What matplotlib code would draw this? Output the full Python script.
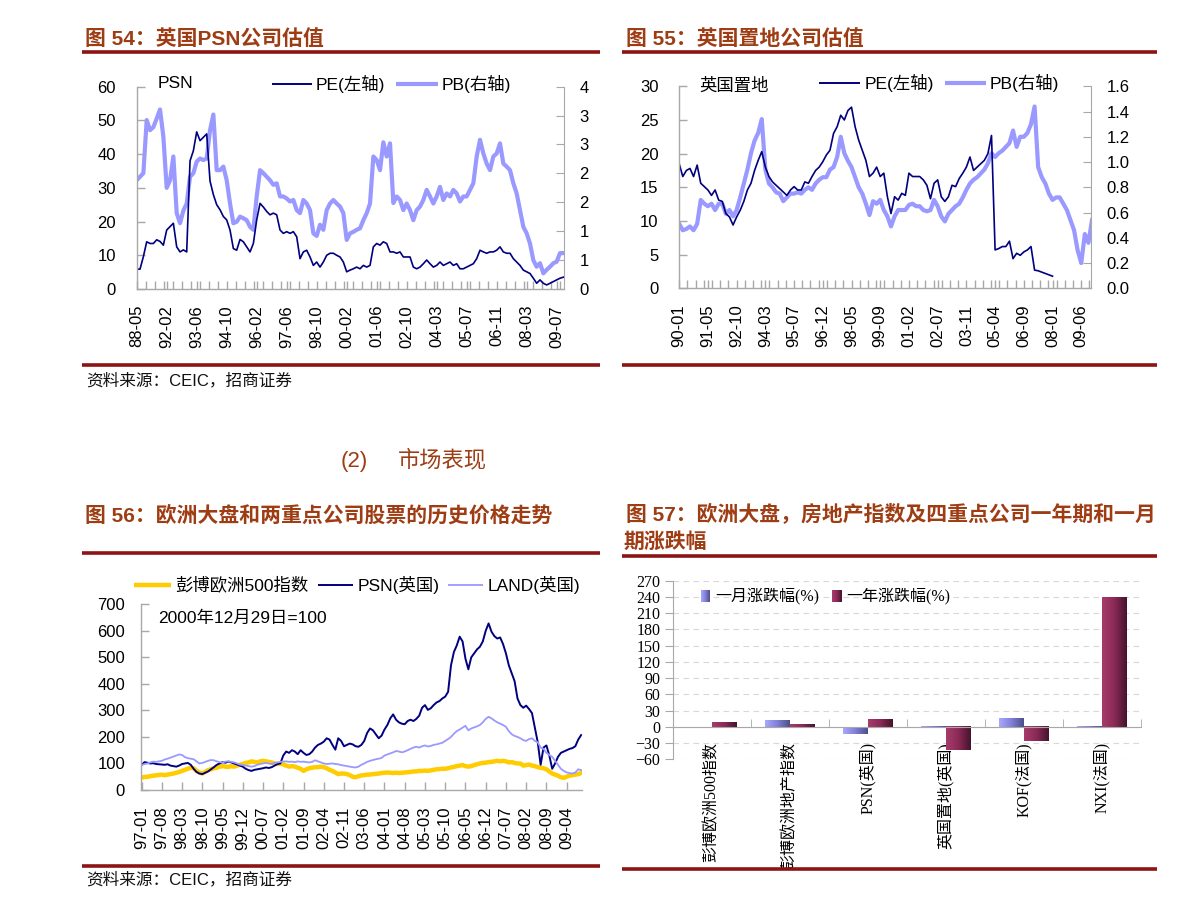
import numpy as np
import matplotlib
matplotlib.use('Agg')
import matplotlib.pyplot as plt
from matplotlib.lines import Line2D
from matplotlib.colors import LinearSegmentedColormap
from matplotlib.ticker import FuncFormatter

# ---------------- data ----------------
# Fig 54: PSN valuation (category axis)
psn_xlabels = ['88-05', '92-02', '93-06', '94-10', '96-02', '97-06', '98-10', '00-02',
               '01-06', '02-10', '04-03', '05-07', '06-11', '08-03', '09-07']
psn_pe = [5.9, 5.9, 9.6, 14.0, 13.5, 13.5, 14.6, 14.1, 13.0, 17.5,
          18.5, 19.5, 12.5, 11.0, 11.6, 11.0, 38.0, 41.0, 46.6, 44.0,
          45.0, 46.0, 32.0, 28.0, 25.0, 23.5, 21.5, 20.5, 17.5, 12.0,
          11.5, 14.7, 14.0, 12.5, 11.0, 13.5, 20.5, 25.4, 24.3, 23.0,
          22.0, 22.5, 22.0, 17.5, 16.5, 17.0, 16.5, 17.0, 15.5, 9.0,
          11.0, 11.5, 9.5, 7.0, 8.0, 6.5, 8.0, 10.0, 10.6, 10.6,
          10.0, 9.5, 8.0, 5.1, 5.6, 6.0, 6.5, 6.0, 7.0, 6.5,
          7.0, 12.5, 13.5, 13.0, 14.0, 13.5, 11.0, 11.0, 10.6, 11.0,
          9.5, 9.5, 9.5, 6.5, 6.0, 6.5, 7.5, 8.6, 7.5, 6.5,
          7.0, 8.0, 7.0, 7.5, 8.0, 7.0, 7.5, 6.0, 6.0, 6.5,
          7.0, 7.5, 9.0, 11.5, 11.0, 10.6, 11.0, 11.0, 11.5, 12.5,
          11.0, 10.6, 10.6, 9.0, 8.0, 7.0, 5.6, 5.1, 4.6, 3.2,
          1.7, 2.7, 1.7, 1.2, 1.7, 2.2, 2.7, 3.2, 3.5]
psn_pb = [2.15, 2.22, 2.29, 3.34, 3.14, 3.20, 3.37, 3.55, 3.01, 2.00,
          2.15, 2.62, 1.50, 1.30, 1.55, 1.69, 2.22, 2.29, 2.52, 2.58,
          2.55, 2.58, 3.14, 3.45, 2.35, 2.35, 2.42, 2.15, 1.69, 1.30,
          1.33, 1.43, 1.40, 1.36, 1.23, 1.17, 1.83, 2.35, 2.29, 2.22,
          2.15, 2.06, 2.09, 1.83, 1.83, 1.79, 1.73, 1.76, 1.56, 1.50,
          1.76, 1.69, 1.56, 1.10, 1.05, 1.27, 1.17, 1.56, 1.69, 1.76,
          1.69, 1.63, 1.50, 0.97, 1.10, 1.13, 1.17, 1.20, 1.36, 1.50,
          1.69, 2.62, 2.55, 2.35, 2.90, 2.62, 2.88, 1.70, 1.83, 1.76,
          1.56, 1.69, 1.56, 1.36, 1.56, 1.63, 1.76, 1.96, 1.83, 1.69,
          1.83, 2.02, 1.76, 1.89, 1.83, 1.96, 1.89, 1.73, 1.83, 1.83,
          1.96, 2.09, 2.62, 2.95, 2.68, 2.48, 2.35, 2.62, 2.68, 2.88,
          2.48, 2.42, 2.35, 2.09, 1.89, 1.56, 1.23, 1.10, 0.90, 0.57,
          0.44, 0.51, 0.31, 0.38, 0.44, 0.51, 0.54, 0.71, 0.71]

# Fig 55: Land Securities valuation (category axis)
land_xlabels = ['90-01', '91-05', '92-10', '94-03', '95-07', '96-12', '98-05', '99-09',
                '01-02', '02-07', '03-11', '05-04', '06-09', '08-01', '09-06']
land_pe = [18.5, 16.6, 17.5, 17.8, 16.6, 18.3, 15.6, 15.1, 14.6, 13.8,
           14.6, 13.1, 12.9, 11.1, 10.6, 9.4, 10.6, 11.6, 12.9, 14.6,
           15.6, 17.5, 19.0, 20.3, 18.0, 16.6, 15.8, 15.3, 14.8, 14.3,
           13.8, 14.6, 15.1, 14.6, 14.6, 15.8, 15.6, 16.6, 17.5, 18.0,
           18.8, 19.8, 20.5, 23.0, 24.0, 25.7, 25.0, 26.4, 26.9, 24.0,
           22.0, 20.5, 19.0, 16.6, 17.1, 18.0, 16.6, 17.1, 13.6, 11.1,
           13.6, 13.1, 14.1, 13.8, 17.1, 16.6, 16.6, 16.6, 16.1, 15.3,
           13.3, 15.6, 16.1, 13.6, 12.9, 13.6, 15.3, 15.1, 16.3, 17.1,
           18.0, 19.5, 17.5, 18.0, 18.5, 19.0, 20.0, 22.7, 5.7, 5.9,
           6.2, 6.2, 7.0, 4.4, 5.2, 4.9, 5.4, 5.7, 6.2, 2.7,
           2.6, 2.4, 2.2, 2.0, 1.8]
land_pb = [0.51, 0.46, 0.47, 0.49, 0.46, 0.51, 0.70, 0.67, 0.65, 0.67,
           0.62, 0.67, 0.67, 0.59, 0.62, 0.57, 0.62, 0.72, 0.83, 0.94,
           1.07, 1.17, 1.23, 1.34, 0.94, 0.83, 0.80, 0.76, 0.75, 0.69,
           0.72, 0.75, 0.75, 0.76, 0.75, 0.78, 0.80, 0.78, 0.83, 0.86,
           0.88, 0.88, 0.94, 0.96, 1.04, 1.20, 1.07, 1.01, 0.96, 0.88,
           0.80, 0.75, 0.67, 0.58, 0.69, 0.67, 0.70, 0.62, 0.57, 0.49,
           0.57, 0.62, 0.62, 0.62, 0.66, 0.67, 0.65, 0.65, 0.62, 0.61,
           0.62, 0.70, 0.65, 0.57, 0.53, 0.59, 0.62, 0.65, 0.67, 0.72,
           0.78, 0.83, 0.86, 0.88, 0.91, 0.94, 0.99, 1.07, 1.04, 1.07,
           1.09, 1.12, 1.15, 1.25, 1.12, 1.20, 1.20, 1.23, 1.30, 1.44,
           0.96, 0.88, 0.83, 0.75, 0.70, 0.72, 0.72, 0.67, 0.62, 0.54,
           0.46, 0.30, 0.20, 0.43, 0.36, 0.54]

# Fig 56: monthly price index, 97-01 .. 09-09 (2000-12-29 = 100)
stock_xlabels = ['97-01', '97-08', '98-03', '98-10', '99-05', '99-12', '00-07', '01-02',
                 '01-09', '02-04', '02-11', '03-06', '04-01', '04-08', '05-03', '05-10',
                 '06-05', '06-12', '07-07', '08-02', '08-09', '09-04']
euro500 = [47, 49, 50, 52, 54, 55, 57, 58, 56, 58, 60, 62, 65, 68,
           72, 76, 80, 84, 82, 72, 66, 62, 68, 75, 78, 82, 84, 88,
           90, 88, 87, 90, 88, 92, 95, 98, 102, 104, 108, 106, 104, 108,
           110, 108, 106, 104, 100, 98, 100, 96, 92, 88, 90, 88, 84, 80,
           72, 78, 82, 84, 86, 86, 88, 86, 82, 76, 72, 66, 60, 62,
           62, 60, 56, 50, 48, 52, 55, 56, 58, 58, 60, 61, 62, 64,
           65, 66, 65, 64, 65, 64, 65, 66, 67, 68, 70, 70, 72, 72,
           73, 72, 74, 76, 78, 79, 80, 80, 82, 85, 87, 90, 92, 94,
           90, 88, 90, 94, 97, 100, 102, 103, 105, 106, 108, 110, 108, 110,
           108, 104, 105, 102, 100, 100, 92, 94, 96, 92, 90, 86, 84, 82,
           78, 70, 62, 58, 54, 48, 46, 50, 54, 56, 58, 60, 64]
psn_price = [94, 105, 103, 100, 101, 98, 97, 96, 95, 97,
             92, 90, 88, 92, 98, 100, 102, 95, 80, 68,
             62, 60, 65, 70, 78, 86, 95, 100, 105, 103,
             107, 104, 100, 96, 92, 88, 80, 75, 72, 76,
             78, 80, 82, 85, 83, 86, 92, 98, 100, 130,
             145, 140, 150, 145, 135, 150, 140, 132, 135, 145,
             160, 170, 175, 182, 195, 190, 170, 152, 195, 185,
             165, 170, 175, 172, 165, 163, 170, 185, 215, 232,
             225, 210, 195, 205, 228, 245, 270, 285, 265, 255,
             250, 248, 260, 265, 260, 268, 280, 310, 320, 302,
             308, 320, 330, 335, 345, 352, 370, 470, 520, 545,
             578, 560, 495, 455, 500, 515, 530, 540, 560, 600,
             628, 597, 580, 571, 575, 550, 515, 470, 440, 410,
             345, 320, 310, 318, 305, 290, 235, 180, 95, 160,
             168, 130, 80, 100, 125, 140, 145, 150, 155, 158,
             165, 190, 207]
land_price = [94, 98, 100, 104, 107, 106, 108, 110, 115, 118,
              122, 126, 130, 134, 132, 124, 120, 118, 116, 108,
              100, 102, 106, 110, 113, 112, 108, 105, 104, 107,
              108, 106, 104, 100, 96, 94, 92, 90, 88, 90,
              95, 98, 100, 102, 100, 98, 102, 104, 106, 107,
              108, 106, 107, 105, 108, 106, 107, 105, 104, 106,
              112, 108, 104, 100, 98, 99, 100, 98, 97, 94,
              92, 90, 88, 86, 85, 88, 95, 100, 106, 110,
              113, 116, 118, 121, 130, 134, 138, 142, 147, 145,
              142, 145, 150, 155, 160, 163, 160, 165, 168, 164,
              166, 170, 172, 175, 178, 185, 192, 200, 212, 222,
              228, 235, 242, 225, 232, 236, 240, 245, 255, 268,
              276, 270, 262, 255, 250, 245, 238, 222, 210, 204,
              200, 195, 188, 185, 192, 195, 185, 180, 160, 155,
              140, 132, 125, 110, 95, 80, 72, 66, 64, 62,
              66, 78, 75]

# Fig 57: one-month / one-year change (%)
cats = ['彭博欧洲500指数', '彭博欧洲地产指数', 'PSN(英国)', '英国置地(英国)', 'KOF(法国)', 'NXI(法国)']
month_chg = [0.0, 12.7, -12.6, -2.0, 16.4, -2.0]
year_chg = [9.0, 5.3, 14.5, -42.7, -26.0, 240.0]
bar_legend = ['一月涨跌幅(%)', '一年涨跌幅(%)']

# ---------------- style ----------------
SANS = ['Liberation Sans', 'Noto Sans CJK SC']
SERIF = ['Liberation Serif', 'Noto Sans CJK SC']
plt.rcParams['font.family'] = SANS
TITLE_C = '#9e3d14'
RULE_C = '#8c1414'
AXC = '#a8a8a8'
NAVY = '#000080'
LAV = '#9999ff'
GOLD = '#ffcc00'

W, H = 1191, 910
fig = plt.figure(figsize=(W / 100, H / 100), dpi=100)
fig.patch.set_facecolor('white')


def fx(x):
    return x / W


def fy(y):
    return 1 - y / H


def hline_px(x1, x2, y, color, lw):
    fig.add_artist(Line2D([fx(x1), fx(x2)], [fy(y), fy(y)], transform=fig.transFigure,
                          color=color, lw=lw, solid_capstyle='butt'))


def text_px(x, y, s, **kw):
    kw.setdefault('va', 'center')
    kw.setdefault('ha', 'left')
    return fig.text(fx(x), fy(y), s, **kw)


def axes_px(x1, y1, x2, y2):
    return fig.add_axes([fx(x1), fy(y2), (x2 - x1) / W, (y2 - y1) / H])


def style_time_axes(ax, ypad, xpad):
    ax.spines['top'].set_visible(False)
    for s in ('left', 'right', 'bottom'):
        ax.spines[s].set_color(AXC)
        ax.spines[s].set_linewidth(1.0)
    ax.tick_params(axis='both', which='both', direction='in', color=AXC, width=1.0,
                   labelsize=12, length=6)
    ax.tick_params(axis='y', pad=ypad)
    ax.tick_params(axis='x', which='major', pad=xpad, labelrotation=90)


# ---------------- headings / rules ----------------
title_kw = dict(fontsize=15, color=TITLE_C, fontweight='bold')
text_px(85, 38.5, '图 54：英国PSN公司估值', **title_kw)
text_px(626, 38.5, '图 55：英国置地公司估值', **title_kw)
hline_px(82, 600, 52, RULE_C, 2.6)
hline_px(622, 1157, 52, RULE_C, 2.6)
hline_px(82, 600, 365, RULE_C, 2.6)
hline_px(622, 1157, 365, RULE_C, 2.6)
text_px(86, 380, '资料来源：CEIC，招商证券', fontsize=12, color='#111111')

text_px(341, 461, '(2)', fontsize=16, color=TITLE_C)
text_px(398, 461, '市场表现', fontsize=16, color=TITLE_C)

text_px(85, 515, '图 56：欧洲大盘和两重点公司股票的历史价格走势', **title_kw)
text_px(626, 514, '图 57：欧洲大盘，房地产指数及四重点公司一年期和一月', **title_kw)
text_px(624, 542, '期涨跌幅', **title_kw)
hline_px(82, 600, 553, RULE_C, 2.6)
hline_px(622, 1157, 556, RULE_C, 2.6)
hline_px(82, 600, 866, RULE_C, 2.6)
hline_px(622, 1157, 869, RULE_C, 2.6)
text_px(86, 879, '资料来源：CEIC，招商证券', fontsize=12, color='#111111')

# ---------------- Fig 54 ----------------
ax1 = axes_px(136.7, 86.7, 564, 289)
ax1r = ax1.twinx()
x1 = np.arange(len(psn_pe))
ax1r.plot(x1, psn_pb, color=LAV, lw=3.0, solid_joinstyle='round')
ax1.plot(x1, psn_pe, color=NAVY, lw=1.2)
ax1.set_zorder(ax1r.get_zorder() + 1)
ax1.patch.set_visible(False)
ax1.set_xlim(0, 128.2)
ax1.set_ylim(0, 60)
ax1.set_yticks(range(0, 61, 10))
ax1r.set_ylim(0, 4)
ax1r.set_yticks([4 * i / 7 for i in range(8)])
ax1r.yaxis.set_major_formatter(FuncFormatter(lambda v, p: f'{v:.0f}'))
ax1.set_xticks(np.arange(len(psn_xlabels)) * 9)
ax1.set_xticklabels(psn_xlabels)
ax1.set_xticks(np.arange(0, 128.3, 2.7), minor=True)
style_time_axes(ax1, 15, 11.5)
ax1.spines['right'].set_visible(False)
for s in ('top', 'left', 'bottom'):
    ax1r.spines[s].set_visible(False)
ax1r.spines['right'].set_color(AXC)
ax1r.tick_params(axis='y', direction='in', color=AXC, length=6, labelsize=12, pad=11)

text_px(158, 84, 'PSN', fontsize=12.5)
hline_px(272, 312, 84, NAVY, 1.4)
text_px(316, 84, 'PE(左轴)', fontsize=12.5)
hline_px(396, 438, 84, LAV, 3.0)
text_px(442, 84, 'PB(右轴)', fontsize=12.5)

# ---------------- Fig 55 ----------------
ax2 = axes_px(679.2, 86.3, 1091.3, 288.3)
ax2r = ax2.twinx()
x2 = np.arange(len(land_pb))
ax2r.plot(x2, land_pb, color=LAV, lw=3.0, solid_joinstyle='round')
ax2.plot(x2[:len(land_pe)], land_pe, color=NAVY, lw=1.2)
ax2.set_zorder(ax2r.get_zorder() + 1)
ax2.patch.set_visible(False)
ax2.set_xlim(0, 114.8)
ax2.set_ylim(0, 30)
ax2.set_yticks(range(0, 31, 5))
ax2r.set_ylim(0, 1.6)
ax2r.set_yticks(np.arange(0, 1.61, 0.2))
ax2r.yaxis.set_major_formatter(FuncFormatter(lambda v, p: f'{v:.1f}'))
ax2.set_xticks(np.arange(len(land_xlabels)) * 8)
ax2.set_xticklabels(land_xlabels)
ax2.set_xticks(np.arange(0, 115, 16 / 7), minor=True)
style_time_axes(ax2, 15, 11.5)
ax2.spines['right'].set_visible(False)
for s in ('top', 'left', 'bottom'):
    ax2r.spines[s].set_visible(False)
ax2r.spines['right'].set_color(AXC)
ax2r.tick_params(axis='y', direction='in', color=AXC, length=6, labelsize=12, pad=11)

text_px(699, 86, '英国置地', fontsize=12.5)
hline_px(819, 860, 83, NAVY, 1.4)
text_px(865, 83, 'PE(左轴)', fontsize=12.5)
hline_px(945, 986, 83, LAV, 3.0)
text_px(990, 83, 'PB(右轴)', fontsize=12.5)

# ---------------- Fig 56 ----------------
ax3 = axes_px(141, 604.3, 581.7, 790)
m = np.arange(len(euro500))
ax3.plot(m, euro500, color=GOLD, lw=3.2, solid_joinstyle='round')
ax3.plot(m, psn_price, color=NAVY, lw=1.4)
ax3.plot(m, land_price, color=LAV, lw=1.3)
ax3.set_xlim(-0.2, 152.2)
ax3.set_ylim(0, 700)
ax3.set_yticks(range(0, 701, 100))
ax3.set_xticks(np.arange(len(stock_xlabels)) * 7)
ax3.set_xticklabels(stock_xlabels)
style_time_axes(ax3, 11.5, 12)
ax3.spines['right'].set_visible(False)

hline_px(134, 171, 585, GOLD, 3.2)
text_px(175, 585, '彭博欧洲500指数', fontsize=12.5)
hline_px(318, 353, 585, NAVY, 1.4)
text_px(358, 585, 'PSN(英国)', fontsize=12.5)
hline_px(448, 483, 585, LAV, 1.3)
text_px(488, 585, 'LAND(英国)', fontsize=12.5)
text_px(158, 618, '2000年12月29日=100', fontsize=12.5)

# ---------------- Fig 57 ----------------
cm_blue = LinearSegmentedColormap.from_list('b', ['#a8a8ff', '#8080d8', '#4e4e86'])
cm_red = LinearSegmentedColormap.from_list('r', ['#a83c6c', '#8a2a56', '#44132d'])
grad = np.linspace(0, 1, 256).reshape(1, -1)

ax4 = axes_px(672.8, 580.7, 1140.5, 759.3)
xc = np.arange(len(cats))
bw = 0.32
b1 = ax4.bar(xc - bw / 2, month_chg, bw, color='none', edgecolor='none')
b2 = ax4.bar(xc + bw / 2, year_chg, bw, color='none', edgecolor='none')
for bars, cmap in ((b1, cm_blue), (b2, cm_red)):
    for r in bars:
        h = r.get_height()
        if h == 0:
            continue
        x0, y0, ww = r.get_x(), r.get_y(), r.get_width()
        ax4.imshow(grad, cmap=cmap, extent=[x0, x0 + ww, min(y0, y0 + h), max(y0, y0 + h)],
                   aspect='auto', zorder=3, interpolation='bilinear')
ax4.set_xlim(-0.5, len(cats) - 0.5)
ax4.set_ylim(-60, 270)
ax4.set_yticks(range(-60, 271, 30))
ax4.set_axisbelow(True)
ax4.yaxis.grid(True, linestyle=(0, (5, 4)), color='#d8d8d8', lw=0.8)
for s in ('top', 'right'):
    ax4.spines[s].set_visible(False)
ax4.spines['left'].set_color(AXC)
ax4.spines['bottom'].set_color(AXC)
ax4.spines['bottom'].set_position(('data', 0))
ax4.spines['bottom'].set_zorder(4)
ax4.tick_params(axis='y', direction='out', length=6, color=AXC, pad=3, labelsize=11.5)
for lab in ax4.get_yticklabels():
    lab.set_fontfamily(SERIF)
ax4.set_xticks(xc)
ax4.set_xticklabels(cats, rotation=90, fontsize=11.5, fontfamily=SERIF)
ax4.tick_params(axis='x', which='major', length=0, pad=11)
ax4.set_xticks(np.arange(0.5, len(cats), 1), minor=True)
ax4.tick_params(axis='x', which='minor', direction='in', length=6, color=AXC)


def grad_square(x1, y1, x2, y2, cmap):
    a = axes_px(x1, y1, x2, y2)
    a.imshow(grad, cmap=cmap, aspect='auto', extent=[0, 1, 0, 1])
    a.set_axis_off()


grad_square(701, 590, 710, 602, cm_blue)
text_px(715, 596, bar_legend[0], fontsize=11.5, family=SERIF)
grad_square(832, 590, 841, 602, cm_red)
text_px(846, 596, bar_legend[1], fontsize=11.5, family=SERIF)

fig.savefig('out.png', dpi=100)
